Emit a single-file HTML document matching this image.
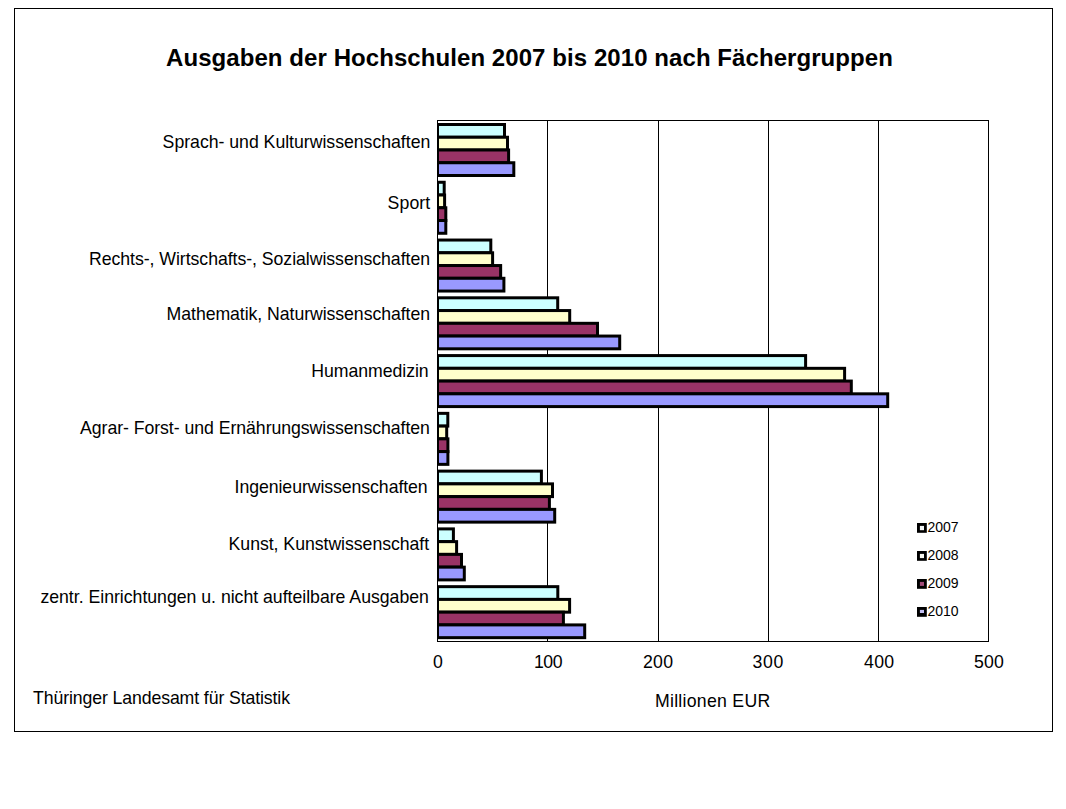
<!DOCTYPE html>
<html><head><meta charset="utf-8"><style>
html,body{margin:0;padding:0;background:#fff;overflow:hidden;}
svg{display:block;}
text{font-family:"Liberation Sans",sans-serif;fill:#000;}
.lab{font-size:17.7px;}
.leg{font-size:14px;}
.title{font-size:24px;font-weight:bold;}
</style></head><body>
<svg width="1066" height="809" viewBox="0 0 1066 809">
<rect x="14.5" y="8.5" width="1038" height="723" fill="none" stroke="#000" stroke-width="1"/>
<rect x="437.5" y="120.5" width="551" height="521" fill="#fff" stroke="#000" stroke-width="1"/>
<line x1="547.5" y1="120" x2="547.5" y2="641" stroke="#000" stroke-width="1"/>
<line x1="658.5" y1="120" x2="658.5" y2="641" stroke="#000" stroke-width="1"/>
<line x1="768.5" y1="120" x2="768.5" y2="641" stroke="#000" stroke-width="1"/>
<line x1="878.5" y1="120" x2="878.5" y2="641" stroke="#000" stroke-width="1"/>
<rect x="437" y="123.00" width="69.00" height="15.75" fill="#000"/>
<rect x="439" y="126.00" width="64.00" height="9.75" fill="#CCFFFF"/>
<rect x="437" y="135.75" width="72.00" height="15.75" fill="#000"/>
<rect x="439" y="138.75" width="67.00" height="9.75" fill="#FFFFCC"/>
<rect x="437" y="148.50" width="73.10" height="15.75" fill="#000"/>
<rect x="439" y="151.50" width="68.10" height="9.75" fill="#993366"/>
<rect x="437" y="161.25" width="78.30" height="15.75" fill="#000"/>
<rect x="439" y="164.25" width="73.30" height="9.75" fill="#9999FF"/>
<rect x="437" y="180.77" width="8.70" height="15.75" fill="#000"/>
<rect x="439" y="183.77" width="3.70" height="9.75" fill="#CCFFFF"/>
<rect x="437" y="193.52" width="9.10" height="15.75" fill="#000"/>
<rect x="439" y="196.52" width="4.10" height="9.75" fill="#FFFFCC"/>
<rect x="437" y="206.27" width="10.30" height="15.75" fill="#000"/>
<rect x="439" y="209.27" width="5.30" height="9.75" fill="#993366"/>
<rect x="437" y="219.02" width="10.30" height="15.75" fill="#000"/>
<rect x="439" y="222.02" width="5.30" height="9.75" fill="#9999FF"/>
<rect x="437" y="238.54" width="55.30" height="15.75" fill="#000"/>
<rect x="439" y="241.54" width="50.30" height="9.75" fill="#CCFFFF"/>
<rect x="437" y="251.29" width="57.10" height="15.75" fill="#000"/>
<rect x="439" y="254.29" width="52.10" height="9.75" fill="#FFFFCC"/>
<rect x="437" y="264.04" width="65.15" height="15.75" fill="#000"/>
<rect x="439" y="267.04" width="60.15" height="9.75" fill="#993366"/>
<rect x="437" y="276.79" width="68.40" height="15.75" fill="#000"/>
<rect x="439" y="279.79" width="63.40" height="9.75" fill="#9999FF"/>
<rect x="437" y="296.31" width="122.20" height="15.75" fill="#000"/>
<rect x="439" y="299.31" width="117.20" height="9.75" fill="#CCFFFF"/>
<rect x="437" y="309.06" width="134.20" height="15.75" fill="#000"/>
<rect x="439" y="312.06" width="129.20" height="9.75" fill="#FFFFCC"/>
<rect x="437" y="321.81" width="162.00" height="15.75" fill="#000"/>
<rect x="439" y="324.81" width="157.00" height="9.75" fill="#993366"/>
<rect x="437" y="334.56" width="184.20" height="15.75" fill="#000"/>
<rect x="439" y="337.56" width="179.20" height="9.75" fill="#9999FF"/>
<rect x="437" y="354.08" width="370.10" height="15.75" fill="#000"/>
<rect x="439" y="357.08" width="365.10" height="9.75" fill="#CCFFFF"/>
<rect x="437" y="366.83" width="409.10" height="15.75" fill="#000"/>
<rect x="439" y="369.83" width="404.10" height="9.75" fill="#FFFFCC"/>
<rect x="437" y="379.58" width="415.80" height="15.75" fill="#000"/>
<rect x="439" y="382.58" width="410.80" height="9.75" fill="#993366"/>
<rect x="437" y="392.33" width="452.20" height="15.75" fill="#000"/>
<rect x="439" y="395.33" width="447.20" height="9.75" fill="#9999FF"/>
<rect x="437" y="411.85" width="12.30" height="15.75" fill="#000"/>
<rect x="439" y="414.85" width="7.30" height="9.75" fill="#CCFFFF"/>
<rect x="437" y="424.60" width="11.20" height="15.75" fill="#000"/>
<rect x="439" y="427.60" width="6.20" height="9.75" fill="#FFFFCC"/>
<rect x="437" y="437.35" width="12.40" height="15.75" fill="#000"/>
<rect x="439" y="440.35" width="7.40" height="9.75" fill="#993366"/>
<rect x="437" y="450.10" width="12.40" height="15.75" fill="#000"/>
<rect x="439" y="453.10" width="7.40" height="9.75" fill="#9999FF"/>
<rect x="437" y="469.62" width="105.90" height="15.75" fill="#000"/>
<rect x="439" y="472.62" width="100.90" height="9.75" fill="#CCFFFF"/>
<rect x="437" y="482.37" width="117.00" height="15.75" fill="#000"/>
<rect x="439" y="485.37" width="112.00" height="9.75" fill="#FFFFCC"/>
<rect x="437" y="495.12" width="113.90" height="15.75" fill="#000"/>
<rect x="439" y="498.12" width="108.90" height="9.75" fill="#993366"/>
<rect x="437" y="507.87" width="119.20" height="15.75" fill="#000"/>
<rect x="439" y="510.87" width="114.20" height="9.75" fill="#9999FF"/>
<rect x="437" y="527.39" width="17.90" height="15.75" fill="#000"/>
<rect x="439" y="530.39" width="12.90" height="9.75" fill="#CCFFFF"/>
<rect x="437" y="540.14" width="21.10" height="15.75" fill="#000"/>
<rect x="439" y="543.14" width="16.10" height="9.75" fill="#FFFFCC"/>
<rect x="437" y="552.89" width="26.00" height="15.75" fill="#000"/>
<rect x="439" y="555.89" width="21.00" height="9.75" fill="#993366"/>
<rect x="437" y="565.64" width="28.80" height="15.75" fill="#000"/>
<rect x="439" y="568.64" width="23.80" height="9.75" fill="#9999FF"/>
<rect x="437" y="585.16" width="122.30" height="15.75" fill="#000"/>
<rect x="439" y="588.16" width="117.30" height="9.75" fill="#CCFFFF"/>
<rect x="437" y="597.91" width="134.10" height="15.75" fill="#000"/>
<rect x="439" y="600.91" width="129.10" height="9.75" fill="#FFFFCC"/>
<rect x="437" y="610.66" width="127.90" height="15.75" fill="#000"/>
<rect x="439" y="613.66" width="122.90" height="9.75" fill="#993366"/>
<rect x="437" y="623.41" width="149.20" height="15.75" fill="#000"/>
<rect x="439" y="626.41" width="144.20" height="9.75" fill="#9999FF"/>
<rect x="917" y="523" width="9.8" height="9.8" fill="#000"/>
<rect x="919.9" y="525.9" width="4.1" height="4.3" fill="#F2F6F6"/>
<rect x="917" y="551" width="9.8" height="9.8" fill="#000"/>
<rect x="919.9" y="553.9" width="4.1" height="4.2" fill="#F8F8F0"/>
<rect x="917" y="579" width="9.8" height="9.8" fill="#000"/>
<rect x="919.9" y="581.9" width="4.1" height="4.0" fill="#A04A78"/>
<rect x="917" y="607" width="9.8" height="9.8" fill="#000"/>
<rect x="919.9" y="609.9" width="4.1" height="3.1" fill="#C4C0F4"/>
<text id="c0" x="162.60" y="147.70" class="lab" textLength="267.71" lengthAdjust="spacing">Sprach- und Kulturwissenschaften</text>
<text id="c1" x="387.60" y="208.90" class="lab" textLength="42.58" lengthAdjust="spacing">Sport</text>
<text id="c2" x="89.00" y="264.50" class="lab" textLength="341.01" lengthAdjust="spacing">Rechts-, Wirtschafts-, Sozialwissenschaften</text>
<text id="c3" x="166.60" y="319.90" class="lab" textLength="263.44" lengthAdjust="spacing">Mathematik, Naturwissenschaften</text>
<text id="c4" x="311.20" y="376.80" class="lab" textLength="117.47" lengthAdjust="spacing">Humanmedizin</text>
<text id="c5" x="80.00" y="434.40" class="lab" textLength="349.90" lengthAdjust="spacing">Agrar- Forst- und Ernährungswissenschaften</text>
<text id="c6" x="234.60" y="493.30" class="lab" textLength="193.09" lengthAdjust="spacing">Ingenieurwissenschaften</text>
<text id="c7" x="228.60" y="549.90" class="lab" textLength="200.55" lengthAdjust="spacing">Kunst, Kunstwissenschaft</text>
<text id="c8" x="40.40" y="603.30" class="lab" textLength="388.51" lengthAdjust="spacing">zentr. Einrichtungen u. nicht aufteilbare Ausgaben</text>
<text id="title" x="166.00" y="65.80" class="title" textLength="726.91" lengthAdjust="spacing">Ausgaben der Hochschulen 2007 bis 2010 nach Fächergruppen</text>
<text id="foot" x="33.00" y="703.80" class="lab" textLength="257.03" lengthAdjust="spacing">Thüringer Landesamt für Statistik</text>
<text id="unit" x="655.00" y="706.80" class="lab" textLength="115.21" lengthAdjust="spacing">Millionen EUR</text>
<text id="a0" x="433.00" y="667.80" class="lab" textLength="9.24" lengthAdjust="spacing">0</text>
<text id="a100" x="534.00" y="667.80" class="lab" textLength="28.52" lengthAdjust="spacing">100</text>
<text id="a200" x="643.00" y="667.80" class="lab" textLength="30.02" lengthAdjust="spacing">200</text>
<text id="a300" x="752.60" y="667.80" class="lab" textLength="30.82" lengthAdjust="spacing">300</text>
<text id="a400" x="864.00" y="667.80" class="lab" textLength="30.12" lengthAdjust="spacing">400</text>
<text id="a500" x="974.00" y="667.80" class="lab" textLength="29.92" lengthAdjust="spacing">500</text>
<text id="leg0" x="927.60" y="532.00" class="leg" textLength="30.96" lengthAdjust="spacing">2007</text>
<text id="leg1" x="927.60" y="560.00" class="leg" textLength="30.96" lengthAdjust="spacing">2008</text>
<text id="leg2" x="927.60" y="588.00" class="leg" textLength="30.96" lengthAdjust="spacing">2009</text>
<text id="leg3" x="927.60" y="616.00" class="leg" textLength="30.96" lengthAdjust="spacing">2010</text>
</svg>
</body></html>
